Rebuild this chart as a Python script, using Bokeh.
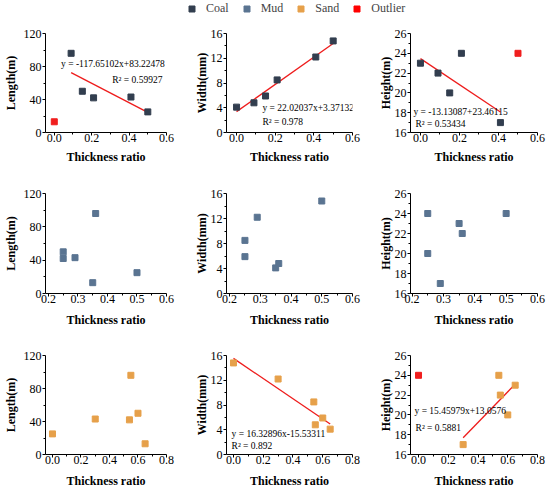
from bokeh.plotting import figure
from bokeh.models import (FixedTicker, PrintfTickFormatter, Label, Legend,
                          LegendItem, Range1d)
from bokeh.layouts import column, row
from bokeh.embed import file_html
from bokeh.resources import INLINE

# ---------------- data (six samples) ----------------
coal_ratio = [0.0, 0.09, 0.15, 0.21, 0.41, 0.50]
mud_ratio = [0.35, 0.36, 0.25, 0.25, 0.29, 0.50]
sand_ratio = [0.65, 0.55, 0.60, 0.54, 0.30, 0.0]
length_m = [13, 96, 50, 42, 43, 25]
width_mm = [4.1, 4.8, 5.9, 8.5, 12.2, 14.8]
height_m = [23, 22, 20, 24, 17, 24]

# outlier sample indices per panel
coal_length_outliers = [0]
coal_height_outliers = [5]
sand_height_outliers = [5]

# linear fits: slope, intercept, equation text, R2 text
coal_length_fit = (-117.65102, 83.22478, "y = -117.65102x+83.22478", "R\u00b2 = 0.59927")
coal_width_fit = (22.02037, 3.37132, "y = 22.02037x+3.37132", "R\u00b2 = 0.978")
coal_height_fit = (-13.13087, 23.46115, "y = -13.13087+23.46115", "R\u00b2 = 0.53434")
sand_width_fit = (-16.32896, 15.53311, "y = 16.32896x-15.53311", "R\u00b2 = 0.892")
sand_height_fit = (15.45979, 13.0576, "y = 15.45979x+13.0576", "R\u00b2 = 0.5881")

legend_names = ["Coal", "Mud", "Sand", "Outlier"]

x_ticks_a = [0.0, 0.2, 0.4, 0.6]
x_minor_a = [0.1, 0.3, 0.5]
x_ticks_b = [0.2, 0.3, 0.4, 0.5, 0.6]
x_minor_b = [0.25, 0.35, 0.45, 0.55]
x_ticks_c = [0.0, 0.2, 0.4, 0.6, 0.8]
x_minor_c = [0.1, 0.3, 0.5, 0.7]
len_ticks = [0, 40, 80, 120]
len_minor = [20, 60, 100]
wid_ticks = [0, 4, 8, 12, 16]
wid_minor = [2, 6, 10, 14]
hei_ticks = [16, 18, 20, 22, 24, 26]
hei_minor = [17, 19, 21, 23, 25]

# ---------------- styles ----------------
COLORS = {"Coal": "#323e4f", "Mud": "#5a7491", "Sand": "#e6a04a", "Outlier": "#f01e1e"}
FONT = "Liberation Serif"
MSIZE = 6
COLS = [dict(w=185, bl=41, br=19, ys=3), dict(w=185, bl=41, br=18, ys=-1), dict(w=178, bl=40, br=11, ys=-1)]
ROWS = [dict(h=160, bt=16, bb=45, ls=5), dict(h=163, bt=16, bb=47, ls=7), dict(h=153, bt=15, bb=39, ls=7)]


def make_panel(col, rw, ratio, values, color, outliers, fit, xr, yr,
               xt, xm, yt, ym, ylabel, yfmt, eq_pos=None):
    c = COLS[col]
    r = ROWS[rw]
    p = figure(width=c["w"], height=r["h"], output_backend="svg", toolbar_location=None,
               x_range=Range1d(*xr), y_range=Range1d(*yr),
               min_border_left=c["bl"], min_border_right=c["br"],
               min_border_top=r["bt"], min_border_bottom=r["bb"])
    p.grid.visible = False
    p.outline_line_color = None
    p.background_fill_color = "white"
    p.border_fill_color = "white"

    p.xaxis.ticker = FixedTicker(ticks=xt, minor_ticks=xm)
    p.yaxis.ticker = FixedTicker(ticks=yt, minor_ticks=ym)
    p.xaxis.formatter = PrintfTickFormatter(format="%.1f")
    p.yaxis.formatter = PrintfTickFormatter(format=yfmt)
    p.xaxis.axis_label = "Thickness ratio"
    p.yaxis.axis_label = ylabel
    for ax in (p.xaxis[0], p.yaxis[0]):
        ax.axis_line_color = "black"
        ax.axis_line_width = 1
        ax.major_tick_line_color = "black"
        ax.minor_tick_line_color = "black"
        ax.major_tick_out = 3
        ax.major_tick_in = 0
        ax.minor_tick_out = 2
        ax.minor_tick_in = 0
        ax.major_label_text_font = FONT
        ax.major_label_text_font_size = "12px"
        ax.major_label_text_color = "black"
        ax.axis_label_text_font = FONT
        ax.axis_label_text_font_size = "12px"
        ax.axis_label_text_font_style = "bold"
        ax.axis_label_text_color = "black"
    p.xaxis.major_label_standoff = -2
    p.xaxis.axis_label_standoff = r["ls"]
    p.yaxis.major_label_standoff = 1
    p.yaxis.axis_label_standoff = c["ys"]

    keep = [i for i in range(len(ratio)) if i not in outliers]
    xs = [ratio[i] for i in keep]
    ys = [values[i] for i in keep]
    if fit is not None:
        slope, icpt, eq, r2 = fit
        x0, x1 = min(xs), max(xs)
        p.line([x0, x1], [slope * x0 + icpt, slope * x1 + icpt], line_color="#ee1c1c", line_width=1.3)
    p.scatter(xs, ys, marker="square", size=MSIZE, fill_color=color, line_color=color)
    if outliers:
        p.scatter([ratio[i] for i in outliers], [values[i] for i in outliers], marker="square",
                  size=MSIZE, fill_color=COLORS["Outlier"], line_color=COLORS["Outlier"])
    if fit is not None and eq_pos is not None:
        (ex, ey), (rx, ry) = eq_pos
        for tx, ty, t in ((ex, ey, eq), (rx, ry, r2)):
            p.add_layout(Label(x=tx, y=ty, text=t, text_font=FONT, text_font_size="9.5px",
                               text_color="black", text_baseline="middle", text_align="left"))
    return p


p1 = make_panel(0, 0, coal_ratio, length_m, COLORS["Coal"], coal_length_outliers, coal_length_fit,
                (-0.047, 0.6), (0, 120), x_ticks_a, x_minor_a, len_ticks, len_minor, "Length(m)", "%d",
                ((0.036, 83.6), (0.31, 64.2)))
p2 = make_panel(1, 0, coal_ratio, width_mm, COLORS["Coal"], [], coal_width_fit,
                (-0.052, 0.6), (0, 16), x_ticks_a, x_minor_a, wid_ticks, wid_minor, "Width(mm)", "%d",
                ((0.134, 3.88), (0.134, 1.62)))
p3 = make_panel(2, 0, coal_ratio, height_m, COLORS["Coal"], coal_height_outliers, coal_height_fit,
                (-0.051, 0.6), (16, 26), x_ticks_a, x_minor_a, hei_ticks, hei_minor, "Height(m)", "%d",
                ((-0.036, 18.04), (-0.026, 16.82)))

p4 = make_panel(0, 1, mud_ratio, length_m, COLORS["Mud"], [], None,
                (0.19, 0.6), (0, 120), x_ticks_b, x_minor_b, len_ticks, len_minor, "Length(m)", "%d")
p5 = make_panel(1, 1, mud_ratio, width_mm, COLORS["Mud"], [], None,
                (0.19, 0.6), (0, 16), x_ticks_b, x_minor_b, wid_ticks, wid_minor, "Width(mm)", "%d")
p6 = make_panel(2, 1, mud_ratio, height_m, COLORS["Mud"], [], None,
                (0.195, 0.6), (16, 26), x_ticks_b, x_minor_b, hei_ticks, hei_minor, "Height(m)", "%d")

p7 = make_panel(0, 2, sand_ratio, length_m, COLORS["Sand"], [], None,
                (-0.049, 0.8), (0, 120), x_ticks_c, x_minor_c, len_ticks, len_minor, "Length(m)", "%d")
p8 = make_panel(1, 2, sand_ratio, width_mm, COLORS["Sand"], [], sand_width_fit,
                (-0.047, 0.8), (0, 16), x_ticks_c, x_minor_c, wid_ticks, wid_minor, "Width(mm)", "%d",
                ((-0.013, 3.39), (-0.013, 1.45)))
p9 = make_panel(2, 2, sand_ratio, height_m, COLORS["Sand"], sand_height_outliers, sand_height_fit,
                (-0.054, 0.8), (16, 26), x_ticks_c, x_minor_c, hei_ticks, hei_minor, "Height(m)", "%d",
                ((-0.027, 20.39), (-0.02, 18.65)))

# ---------------- legend strip ----------------
lf = figure(width=sum(c["w"] for c in COLS), height=17, output_backend="svg", toolbar_location=None,
            x_range=Range1d(0, 1), y_range=Range1d(0, 1), x_axis_type=None, y_axis_type=None,
            min_border_left=0, min_border_right=0, min_border_top=0, min_border_bottom=0)
lf.grid.visible = False
lf.outline_line_color = None
items = []
for name in legend_names:
    col = COLORS[name] if name != "Outlier" else "#ff0000"
    # placeholder point outside the visible range, only used for the legend glyph
    rr = lf.scatter(x=[-10], y=[-10], marker="square", size=MSIZE, fill_color=col, line_color=col)
    items.append(LegendItem(label=name, renderers=[rr]))
legend = Legend(items=items, orientation="horizontal", location=(184, 1),
                glyph_width=15, glyph_height=15, label_standoff=7, spacing=10,
                padding=0, margin=0, border_line_color=None, background_fill_alpha=0,
                label_text_font=FONT, label_text_font_size="12px", label_height=12)
lf.add_layout(legend)

layout = column(lf, row(p1, p2, p3), row(p4, p5, p6), row(p7, p8, p9))

open("out.html", "w").write(file_html(layout, INLINE))
